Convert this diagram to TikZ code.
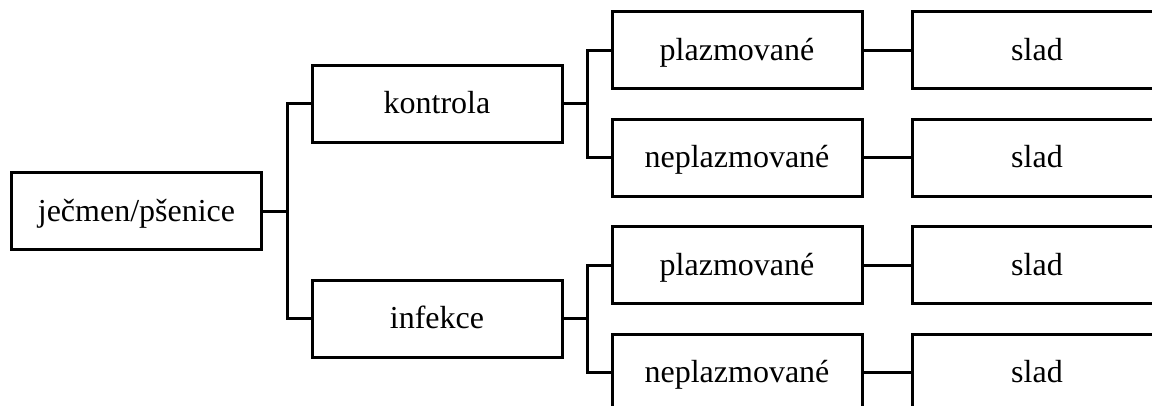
\documentclass[tikz,border=0pt]{standalone}
\usepackage{fontspec}
\setmainfont{Liberation Serif}
\begin{document}
\begin{tikzpicture}[x=0.75pt,y=-0.75pt,
  box/.style={draw=black,line width=2.25pt,fill=white,rectangle,
    minimum width=187.5pt,minimum height=57.75pt,inner sep=0pt,
    text height=17pt,text depth=2pt,
    font=\fontsize{24}{28}\selectfont},
  link/.style={draw=black,line width=2.25pt}]
\useasboundingbox (0,0) rectangle (1152,405);
\clip (0,0) rectangle (1152,405);

% tree of boxes, one column per level
\node[box] (root) at (136.5,211.25) {ječmen/pšenice};
\node[box] (kon)  at (437,103.75) {kontrola};
\node[box] (inf)  at (437,318.75) {infekce};
\node[box] (kp)   at (737,50)    {plazmované};
\node[box] (kn)   at (737,157.5) {neplazmované};
\node[box] (ip)   at (737,265)   {plazmované};
\node[box] (in)   at (737,372.5) {neplazmované};
\node[box] (s1)   at (1037,50)    {slad};
\node[box] (s2)   at (1037,157.5) {slad};
\node[box] (s3)   at (1037,265)   {slad};
\node[box] (s4)   at (1037,372.5) {slad};

% branching points
\coordinate (j0) at (287,211.25);
\coordinate (j1) at (587,103.75);
\coordinate (j2) at (587,318.75);

\draw[link] (root.east) -- (j0);
\draw[link] (j0) |- (kon.west);
\draw[link] (j0) |- (inf.west);
\draw[link] (kon.east) -- (j1);
\draw[link] (j1) |- (kp.west);
\draw[link] (j1) |- (kn.west);
\draw[link] (inf.east) -- (j2);
\draw[link] (j2) |- (ip.west);
\draw[link] (j2) |- (in.west);
\draw[link] (kp.east) -- (s1.west);
\draw[link] (kn.east) -- (s2.west);
\draw[link] (ip.east) -- (s3.west);
\draw[link] (in.east) -- (s4.west);
\end{tikzpicture}
\end{document}
